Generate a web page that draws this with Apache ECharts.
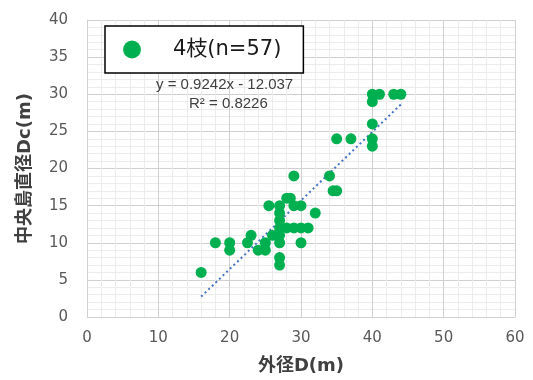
<!DOCTYPE html>
<html>
<head>
<meta charset="utf-8">
<script src="https://cdn.jsdelivr.net/npm/echarts@6/dist/echarts.min.js"></script>
<style>
html,body{margin:0;padding:0;background:#fff;}
#chart{width:533px;height:380px;}
</style>
</head>
<body>
<div id="chart"></div>
<script>
// Data
const seriesName = '4枝(n=57)';
const outerD = [16, 18, 20, 20, 22.5, 23, 24, 25, 25, 25.5, 26, 27, 27, 27, 27, 27, 27, 27, 27,
  28, 28.5, 28, 29, 30, 31, 29, 30, 29, 30, 32, 34, 34.5, 35, 35, 37, 40, 41, 43, 44, 40, 40, 40, 40];
const centerDc = [6, 10, 10, 9, 10, 11, 9, 9, 10, 15, 11, 15, 14, 13, 12, 11, 10, 8, 7,
  16, 16, 12, 12, 12, 12, 15, 15, 19, 10, 14, 19, 17, 17, 24, 24, 30, 30, 30, 30, 29, 26, 24, 23];
const trendSlope = 0.9242;
const trendIntercept = -12.037;
const trendRange = [16, 44];
const equationText = 'y = 0.9242x - 12.037';
const r2Text = 'R² = 0.8226';
const xTitle = '外径D(m)';
const yTitle = '中央島直径Dc(m)';

const points = outerD.map((x, i) => [x, centerDc[i]]);
const trend = trendRange.map(x => [x, trendSlope * x + trendIntercept]);

const chart = echarts.init(document.getElementById('chart'), null, {renderer: 'canvas'});
const tickFont = {fontFamily: 'DejaVu Sans', fontSize: 15, color: '#595959'};
chart.setOption({
  animation: false,
  backgroundColor: '#fff',
  grid: {left: 87, right: 18, top: 20, bottom: 62},
  xAxis: {
    type: 'value', min: 0, max: 60, interval: 10,
    name: xTitle, nameLocation: 'middle', nameGap: 40,
    nameTextStyle: {fontFamily: 'DejaVu Sans, Noto Sans CJK JP', fontSize: 18, fontWeight: 'bold', color: '#404040'},
    axisLine: {show: true, lineStyle: {color: '#d0d0d0', width: 1}},
    axisTick: {show: false},
    axisLabel: Object.assign({margin: 14}, tickFont),
    splitLine: {show: true, lineStyle: {color: '#d0d0d0', width: 1}},
    minorTick: {show: false, splitNumber: 5},
    minorSplitLine: {show: true, lineStyle: {color: '#ececec', width: 1}}
  },
  yAxis: {
    type: 'value', min: 0, max: 40, interval: 5,
    name: yTitle, nameLocation: 'middle', nameGap: 53,
    nameTextStyle: {fontFamily: 'DejaVu Sans, Noto Sans CJK JP', fontSize: 18, fontWeight: 'bold', color: '#404040'},
    axisLine: {show: true, lineStyle: {color: '#d0d0d0', width: 1}},
    axisTick: {show: false},
    axisLabel: Object.assign({margin: 19}, tickFont),
    splitLine: {show: true, lineStyle: {color: '#d0d0d0', width: 1}},
    minorTick: {show: false, splitNumber: 5},
    minorSplitLine: {show: true, lineStyle: {color: '#ececec', width: 1}}
  },
  legend: {
    data: [seriesName],
    left: 105, top: 26,
    orient: 'horizontal',
    backgroundColor: '#fff',
    borderColor: '#000', borderWidth: 1.5,
    padding: [13, 22, 13, 18],
    itemWidth: 18, itemHeight: 18,
    icon: 'circle',
    textStyle: {fontFamily: 'DejaVu Sans, Noto Sans CJK JP', fontSize: 21, color: '#1a1a1a', padding: [0, 0, 0, 27]}
  },
  series: [
    {
      name: seriesName,
      type: 'scatter',
      data: points,
      symbol: 'circle',
      symbolSize: 11,
      itemStyle: {color: '#00B050', opacity: 1},
      z: 3
    },
    {
      name: 'trend',
      type: 'line',
      data: trend,
      symbol: 'none',
      lineStyle: {color: '#4472C4', width: 2, type: [2, 3]},
      z: 2,
      silent: true
    }
  ],
  graphic: [
    {type: 'text', left: 156, top: 77, z: 10,
      style: {text: equationText, fontFamily: 'Liberation Sans', fontSize: 15, fill: '#404040'}},
    {type: 'text', left: 189, top: 96, z: 10,
      style: {text: r2Text, fontFamily: 'Liberation Sans', fontSize: 15, fill: '#404040'}}
  ]
});
</script>
</body>
</html>
